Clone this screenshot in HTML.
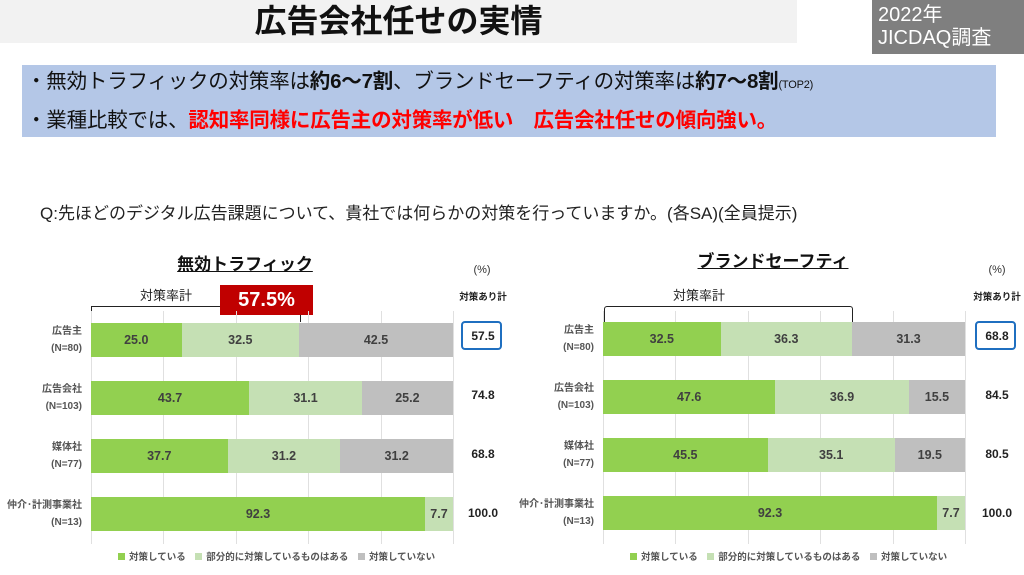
<!DOCTYPE html>
<html><head><meta charset="utf-8">
<style>
*{margin:0;padding:0;box-sizing:border-box}
body{width:1024px;height:575px;background:#fff;position:relative;overflow:hidden;font-family:"Liberation Sans","Noto Sans CJK JP",sans-serif;color:#222}
.a{position:absolute}
.seg{position:absolute;height:34px;line-height:34px;text-align:center;font-size:12.5px;font-weight:bold;color:#404040}
.g{background:#92d050}.l{background:#c5e0b4}.y{background:#bfbfbf}
.grid{position:absolute;width:1px;background:#e0e0e0;top:311px;height:233px}
.lab{position:absolute;text-align:right;font-size:10px;font-weight:bold;color:#555;line-height:17px}
.tot{position:absolute;width:44px;text-align:center;font-size:12px;font-weight:bold;color:#222}
.leg{position:absolute;font-size:9.5px;font-weight:bold;color:#555;white-space:nowrap;top:549px}
.leg i{display:inline-block;width:7px;height:7px;margin-right:4px;vertical-align:0}
</style></head><body>
<div class="a" style="left:0;top:0;width:797px;height:43px;background:#f2f2f2"></div>
<div class="a" style="left:0;top:2px;width:797px;text-align:center;font-size:32px;font-weight:bold;color:#111;line-height:38px">広告会社任せの実情</div>
<div class="a" style="left:872px;top:0;width:152px;height:54px;background:#7f7f7f;color:#fff;font-size:20px;line-height:23px;padding:4px 0 0 6px">2022年<br>JICDAQ調査</div>
<div class="a" style="left:22px;top:65px;width:974px;height:72px;background:#b4c7e7"></div>
<div class="a" style="left:26px;top:69px;font-size:20.5px;line-height:26px;color:#111;white-space:nowrap;letter-spacing:-0.2px">・無効トラフィックの対策率は<b>約6～7割</b>、ブランドセーフティの対策率は<b>約7～8割</b><span style="font-size:11px">(TOP2)</span></div>
<div class="a" style="left:26px;top:108px;font-size:20.5px;line-height:26px;color:#111;white-space:nowrap;letter-spacing:-0.2px">・業種比較では、<b style="color:#ff0000">認知率同様に広告主の対策率が低い　広告会社任せの傾向強い。</b></div>
<div class="a" style="left:40px;top:199px;font-size:17px;color:#222;white-space:nowrap">Q:先ほどのデジタル広告課題について、貴社では何らかの対策を行っていますか。(各SA)(全員提示)</div>

<!-- left chart -->
<div class="a" style="left:145px;top:250px;width:200px;text-align:center;font-size:17px;font-weight:bold;text-decoration:underline;color:#111">無効トラフィック</div>
<div class="a" style="left:460px;top:264px;width:44px;text-align:center;font-size:11px;color:#333">(%)</div>
<div class="a" style="left:455px;top:289px;width:56px;text-align:center;font-size:9.5px;font-weight:bold;color:#222">対策あり計</div>
<div class="a" style="left:140px;top:285px;font-size:13px;color:#222">対策率計</div>
<div class="a" style="left:91px;top:306px;width:210px;height:16px;border:1.5px solid #222;border-bottom:none"></div>
<div class="a" style="left:220px;top:285px;width:93px;height:30px;background:#c00000;color:#fff;font-size:20px;font-weight:bold;text-align:center;line-height:30px">57.5%</div>
<div class="grid" style="left:91px"></div><div class="grid" style="left:163px"></div><div class="grid" style="left:236px"></div><div class="grid" style="left:308px"></div><div class="grid" style="left:381px"></div><div class="grid" style="left:453px"></div>

<div class="seg g" style="left:91px;top:323px;width:90.5px">25.0</div><div class="seg l" style="left:181.5px;top:323px;width:117.6px">32.5</div><div class="seg y" style="left:299px;top:323px;width:154px">42.5</div>
<div class="seg g" style="left:91px;top:381px;width:158.2px">43.7</div><div class="seg l" style="left:249.2px;top:381px;width:112.6px">31.1</div><div class="seg y" style="left:361.8px;top:381px;width:91.2px">25.2</div>
<div class="seg g" style="left:91px;top:439px;width:136.5px">37.7</div><div class="seg l" style="left:227.5px;top:439px;width:112.9px">31.2</div><div class="seg y" style="left:340.4px;top:439px;width:112.6px">31.2</div>
<div class="seg g" style="left:91px;top:497px;width:334px">92.3</div><div class="seg l" style="left:425px;top:497px;width:28px">7.7</div>

<div class="lab" style="left:0;top:323px;width:82px">広告主<br>(N=80)</div>
<div class="lab" style="left:0;top:381px;width:82px">広告会社<br>(N=103)</div>
<div class="lab" style="left:0;top:439px;width:82px">媒体社<br>(N=77)</div>
<div class="lab" style="left:0;top:497px;width:82px">仲介･計測事業社<br>(N=13)</div>
<div class="a" style="left:461px;top:321px;width:41px;height:29px;border:2.5px solid #1f6fc0;border-radius:4px"></div>
<div class="tot" style="left:461px;top:329px">57.5</div>
<div class="tot" style="left:461px;top:388px">74.8</div>
<div class="tot" style="left:461px;top:447px">68.8</div>
<div class="tot" style="left:461px;top:506px">100.0</div>
<div class="leg" style="left:118px"><i class="g"></i>対策している　<i class="l"></i>部分的に対策しているものはある　<i class="y"></i>対策していない</div>

<!-- right chart -->
<div class="a" style="left:673px;top:247px;width:200px;text-align:center;font-size:17px;font-weight:bold;text-decoration:underline;color:#111">ブランドセーフティ</div>
<div class="a" style="left:975px;top:264px;width:44px;text-align:center;font-size:11px;color:#333">(%)</div>
<div class="a" style="left:969px;top:289px;width:56px;text-align:center;font-size:9.5px;font-weight:bold;color:#222">対策あり計</div>
<div class="a" style="left:673px;top:285px;font-size:13px;color:#222">対策率計</div>
<div class="a" style="left:604px;top:306px;width:249px;height:16px;border:1.5px solid #222;border-bottom:none;border-radius:3px 3px 0 0"></div>
<div class="grid" style="left:603px"></div><div class="grid" style="left:675px"></div><div class="grid" style="left:748px"></div><div class="grid" style="left:820px"></div><div class="grid" style="left:893px"></div><div class="grid" style="left:965px"></div>

<div class="seg g" style="left:603px;top:322px;width:117.6px">32.5</div><div class="seg l" style="left:720.6px;top:322px;width:131.4px">36.3</div><div class="seg y" style="left:852px;top:322px;width:113px">31.3</div>
<div class="seg g" style="left:603px;top:380px;width:172.3px">47.6</div><div class="seg l" style="left:775.3px;top:380px;width:133.6px">36.9</div><div class="seg y" style="left:908.9px;top:380px;width:56.1px">15.5</div>
<div class="seg g" style="left:603px;top:438px;width:164.7px">45.5</div><div class="seg l" style="left:767.7px;top:438px;width:127px">35.1</div><div class="seg y" style="left:894.7px;top:438px;width:70.3px">19.5</div>
<div class="seg g" style="left:603px;top:496px;width:334px">92.3</div><div class="seg l" style="left:937px;top:496px;width:28px">7.7</div>

<div class="lab" style="left:510px;top:322px;width:84px">広告主<br>(N=80)</div>
<div class="lab" style="left:510px;top:380px;width:84px">広告会社<br>(N=103)</div>
<div class="lab" style="left:510px;top:438px;width:84px">媒体社<br>(N=77)</div>
<div class="lab" style="left:510px;top:496px;width:84px">仲介･計測事業社<br>(N=13)</div>
<div class="a" style="left:975px;top:321px;width:41px;height:29px;border:2.5px solid #1f6fc0;border-radius:4px"></div>
<div class="tot" style="left:975px;top:329px">68.8</div>
<div class="tot" style="left:975px;top:388px">84.5</div>
<div class="tot" style="left:975px;top:447px">80.5</div>
<div class="tot" style="left:975px;top:506px">100.0</div>
<div class="leg" style="left:630px"><i class="g"></i>対策している　<i class="l"></i>部分的に対策しているものはある　<i class="y"></i>対策していない</div>
</body></html>
